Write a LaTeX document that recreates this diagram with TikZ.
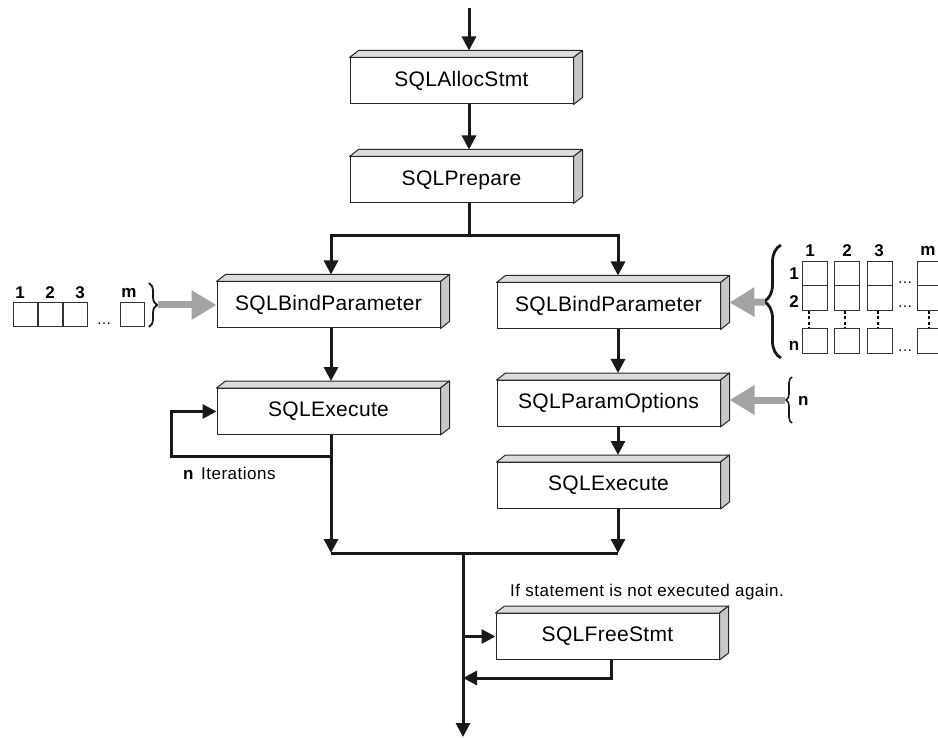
\documentclass[tikz,border=0pt]{standalone}
\usepackage{fontspec}
\setmainfont{Liberation Sans}
\usetikzlibrary{arrows.meta,calc,decorations.pathreplacing}

\tikzset{
  sqlbox/.style={draw=black!85, line width=1pt, fill=white,
    minimum width=223pt, minimum height=46pt, inner sep=0pt,
    font=\fontsize{21}{24}\selectfont\addfontfeature{LetterSpace=1.5}},
  topface/.style={draw=black!85, line width=1pt, fill=black!14, line join=round},
  sideface/.style={draw=black!85, line width=1pt, fill=black!22, line join=round},
  flowline/.style={line width=3pt, draw=black!90},
  flow/.style={flowline, -{Triangle[length=14pt,width=14pt]}},
  feed/.style={draw=black!36, line width=7pt, -{Triangle[length=25pt,width=28pt]}},
  cell/.style={draw=black!80, line width=0.9pt, fill=white},
  vdots/.style={line width=2pt, dash pattern=on 3pt off 2.5pt},
  lbl/.style={font=\fontsize{17}{17}\selectfont\bfseries, inner sep=0pt},
  ellip/.style={font=\fontsize{15}{15}\selectfont, inner sep=0pt, anchor=base},
  note/.style={font=\fontsize{17}{19}\selectfont\addfontfeature{LetterSpace=3}, inner sep=0pt},
  bracebig/.style={draw=black!90, decorate, decoration={brace, amplitude=#1}},
}

% top and side faces that give a box its depth
\newcommand\boxdepth[1]{%
  \filldraw[topface] (#1.north west) -- ++(9,-7) -- ($(#1.north east)+(9,-7)$)
    -- (#1.north east) -- cycle;
  \filldraw[sideface] (#1.north east) -- ++(9,-7) -- ($(#1.south east)+(9,-7)$)
    -- (#1.south east) -- cycle;}

\begin{document}
\begin{tikzpicture}[x=1pt,y=-1pt]
\useasboundingbox (0,0) rectangle (938,738);

% function boxes
\node[sqlbox] (alloc)    at (461.5,81)    {SQLAllocStmt};
\node[sqlbox] (prepare)  at (461.5,180)   {SQLPrepare};
\node[sqlbox] (bindL)    at (328.5,305)   {SQLBindParameter};
\node[sqlbox] (bindR)    at (608.5,306)   {SQLBindParameter};
\node[sqlbox] (execL)    at (328.5,411.5) {SQLExecute};
\node[sqlbox] (paramopt) at (608.5,403.5) {SQLParamOptions};
\node[sqlbox] (execR)    at (608.5,485.5) {SQLExecute};
\node[sqlbox] (free)     at (607.5,636.5) {SQLFreeStmt};
\foreach \b in {alloc,prepare,bindL,bindR,execL,paramopt,execR,free} {\boxdepth{\b}}

% column positions of the flow lines
\coordinate (mx) at (469,0);
\coordinate (lx) at (331,0);
\coordinate (rx) at (618,0);
\coordinate (ret) at (611,0);
\coordinate (start) at (469,8);
\coordinate (split) at (469,236);
\coordinate (join) at (463,553);
\coordinate (end) at (463,737);
\coordinate (loopturn) at (331,456);
\coordinate (loopleft) at (171,456);
\coordinate (back) at (463,678);

% main flow
\draw[flow] (start) -- ($(alloc.north -| mx)+(0,-7)$);
\draw[flow] (alloc.south -| mx) -- ($(prepare.north -| mx)+(0,-7)$);
\draw[flowline] (prepare.south -| mx) -- (split);
\draw[flow] (split) -| ($(bindL.north -| lx)+(0,-7)$);
\draw[flow] (split) -| ($(bindR.north -| rx)+(0,-7)$);

% left branch with its repeat loop
\draw[flow] (bindL.south -| lx) -- ($(execL.north -| lx)+(0,-7)$);
\draw[flow] (execL.south -| lx) -- (join -| lx);
\draw[flow] (loopturn) -- (loopleft) |- (execL.west);
\node[note, anchor=base west] (iter) at (183,479) {\textbf{n}\hspace{7pt}Iterations};

% right branch
\draw[flow] (bindR.south -| rx) -- ($(paramopt.north -| rx)+(0,-7)$);
\draw[flow] (paramopt.south -| rx) -- ($(execR.north -| rx)+(0,-7)$);
\draw[flow] (execR.south -| rx) -- (join -| rx);

% join and exit
\draw[flowline] (join -| lx) -- (join -| rx);
\draw[flow] (join) -- (end);
\draw[flow] (free.west -| join) -- (free.west);
\draw[flow] (free.south -| ret) |- (back);
\node[note, anchor=base west] (again) at (510,596) {If statement is not executed again.};

% single row of parameters
\foreach \x in {13,38,63,120} {\draw[cell] (\x,302) rectangle ++(24,24);}
\node[lbl] (p1) at (20,293) {1};
\node[lbl] (p2) at (50,293) {2};
\node[lbl] (p3) at (80,293) {3};
\node[lbl] (pm) at (129,293) {m};
\node[ellip] (pdots) at (104,325) {\dots};
\draw[bracebig=8pt, line width=1.8pt] (149,283) -- (149,327);
\coordinate (lbrace) at (158,305);
\draw[feed] (lbrace) -- (bindL.west);

% array of parameter rows
\foreach \x in {802,834,867,917} {
  \draw[cell] (\x,261) rectangle ++(25,24);
  \draw[cell] (\x,285) rectangle ++(25,25);
  \draw[cell] (\x,328) rectangle ++(25,25);
}
\foreach \x in {809,845,878,929} {\draw[vdots] (\x,311) -- (\x,328);}
\node[lbl] (c1) at (810,251) {1};
\node[lbl] (c2) at (847,251) {2};
\node[lbl] (c3) at (879,251) {3};
\node[lbl] (cm) at (928,251) {m};
\node[lbl] (r1) at (794,274) {1};
\node[lbl] (r2) at (794,302) {2};
\node[lbl] (rn) at (794,346) {n};
\node[ellip] (d1) at (905,284) {\dots};
\node[ellip] (d2) at (905,308) {\dots};
\node[ellip] (dn) at (905,352) {\dots};
\draw[bracebig=17pt, line width=2.8pt] (781,358) -- (781,245);
\coordinate (rbrace) at (765,302);
\draw[feed] (rbrace) -- ($(bindR.east)+(9,-3.5)$);

% row count for SQLParamOptions
\draw[bracebig=6pt, line width=1.6pt] (792,423) -- (792,377);
\node[lbl, anchor=west] (nrows) at (798,401) {n};
\coordinate (nbrace) at (785,400);
\draw[feed] (nbrace) -- ($(paramopt.east)+(9,-3.5)$);
\end{tikzpicture}
\end{document}
